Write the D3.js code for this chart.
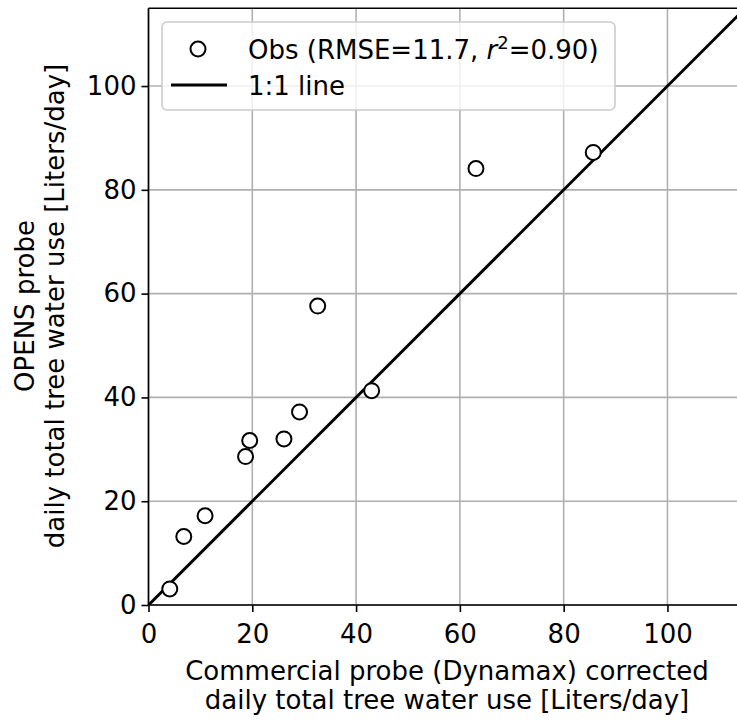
<!DOCTYPE html>
<html lang="en">
<head>
    <meta charset="UTF-8">
    <title>OPENS vs Dynamax</title>
    <script src="https://cdn.jsdelivr.net/npm/d3@7"></script>
    <style>
        body { margin: 0; background: #fff; }
        text { font-family: "DejaVu Sans", sans-serif; }
    </style>
</head>
<body>
<script type="application/javascript">
    // observations (commercial probe x, OPENS probe y), Liters/day
    const dynamax = [4.1, 6.8, 10.9, 18.7, 19.5, 26.1, 29.1, 32.6, 43.0, 63.1, 85.7];
    const opens = [3.1, 13.2, 17.2, 28.6, 31.7, 32.0, 37.2, 57.6, 41.3, 84.1, 87.2];
    const tickValues = [0, 20, 40, 60, 80, 100];
    const axisMax = 115;
    const legendLabels = ['Obs (RMSE=11.7, ', '1:1 line'];

    const w = 737, h = 721, fs = '26px';
    const plotLeft = 148.5, plotBottom = 605, plotTop = 8.2;
    const unit = (plotBottom - plotTop) / axisMax;

    let svg = d3.select('body')
        .append('svg')
        .attr('width', w)
        .attr('height', h);

    let xScale = d3.scaleLinear()
        .domain([0, axisMax])
        .range([plotLeft, plotLeft + axisMax * unit]);

    let yScale = d3.scaleLinear()
        .domain([0, axisMax])
        .range([plotBottom, plotTop]);

    svg.append('clipPath')
        .attr('id', 'plot-clip')
        .append('rect')
        .attr('x', plotLeft)
        .attr('y', plotTop)
        .attr('width', axisMax * unit)
        .attr('height', plotBottom - plotTop);

    // grid
    let grid = svg.append('g');
    grid.selectAll('line.gx')
        .data(tickValues)
        .enter()
        .append('line')
        .attr('x1', d => xScale(d))
        .attr('x2', d => xScale(d))
        .attr('y1', plotTop)
        .attr('y2', plotBottom)
        .attr('stroke', '#b0b0b0')
        .attr('stroke-width', 1.6);
    grid.selectAll('line.gy')
        .data(tickValues)
        .enter()
        .append('line')
        .attr('x1', plotLeft)
        .attr('x2', w + 20)
        .attr('y1', d => yScale(d))
        .attr('y2', d => yScale(d))
        .attr('stroke', '#b0b0b0')
        .attr('stroke-width', 1.6);

    // 1:1 line
    svg.append('line')
        .attr('clip-path', 'url(#plot-clip)')
        .attr('x1', xScale(0))
        .attr('y1', yScale(0))
        .attr('x2', xScale(axisMax))
        .attr('y2', yScale(axisMax))
        .attr('stroke', 'black')
        .attr('stroke-width', 3);

    // observations
    svg.selectAll('circle.obs')
        .data(dynamax)
        .enter()
        .append('circle')
        .attr('class', 'obs')
        .attr('cx', d => xScale(d))
        .attr('cy', (d, i) => yScale(opens[i]))
        .attr('r', 7.5)
        .attr('fill', 'white')
        .attr('stroke', 'black')
        .attr('stroke-width', 2);

    // axes
    let xAxis = d3.axisBottom(xScale)
        .tickValues(tickValues)
        .tickSize(7)
        .tickPadding(13)
        .tickSizeOuter(0);
    let gx = svg.append('g')
        .attr('transform', 'translate(0,' + plotBottom + ')')
        .call(xAxis);

    let yAxis = d3.axisLeft(yScale)
        .tickValues(tickValues)
        .tickSize(7)
        .tickPadding(5)
        .tickSizeOuter(0);
    let gy = svg.append('g')
        .attr('transform', 'translate(' + plotLeft + ',0)')
        .call(yAxis);

    [gx, gy].forEach(g => {
        g.select('.domain').remove();
        g.selectAll('.tick line').attr('stroke', 'black').attr('stroke-width', 1.6);
        g.selectAll('.tick text')
            .attr('font-size', fs)
            .attr('font-family', '"DejaVu Sans", sans-serif')
            .attr('fill', 'black');
    });

    // spines
    svg.append('line')
        .attr('x1', plotLeft).attr('x2', w + 20)
        .attr('y1', plotBottom).attr('y2', plotBottom)
        .attr('stroke', 'black').attr('stroke-width', 1.6);
    svg.append('line')
        .attr('x1', plotLeft).attr('x2', w + 20)
        .attr('y1', plotTop).attr('y2', plotTop)
        .attr('stroke', 'black').attr('stroke-width', 1.6);
    svg.append('line')
        .attr('x1', plotLeft).attr('x2', plotLeft)
        .attr('y1', plotTop).attr('y2', plotBottom)
        .attr('stroke', 'black').attr('stroke-width', 1.6);

    // axis labels
    let xl = svg.append('text')
        .attr('text-anchor', 'middle')
        .attr('font-size', fs);
    xl.append('tspan').attr('x', 447).attr('y', 680).text('Commercial probe (Dynamax) corrected');
    xl.append('tspan').attr('x', 447).attr('y', 709).text('daily total tree water use [Liters/day]');

    let yl = svg.append('text')
        .attr('text-anchor', 'middle')
        .attr('font-size', fs)
        .attr('transform', 'translate(0,306) rotate(-90)');
    yl.append('tspan').attr('x', 0).attr('y', 34).text('OPENS probe');
    yl.append('tspan').attr('x', 0).attr('y', 64).text('daily total tree water use [Liters/day]');

    // legend
    let legend = svg.append('g');
    legend.append('rect')
        .attr('x', 162).attr('y', 22)
        .attr('width', 453).attr('height', 88)
        .attr('rx', 5)
        .attr('fill', 'white').attr('fill-opacity', 0.8)
        .attr('stroke', '#cccccc').attr('stroke-width', 1.6);
    legend.append('circle')
        .attr('cx', 198).attr('cy', 49)
        .attr('r', 7.5)
        .attr('fill', 'white').attr('stroke', 'black').attr('stroke-width', 2);
    let t1 = legend.append('text')
        .attr('x', 248).attr('y', 58.5)
        .attr('font-size', fs);
    t1.append('tspan').text(legendLabels[0]);
    t1.append('tspan').attr('font-style', 'italic').text('r');
    t1.append('tspan').attr('font-size', '18px').attr('dy', -10).text('2');
    t1.append('tspan').attr('dy', 10).text('=0.90)');
    legend.append('line')
        .attr('x1', 171).attr('x2', 227)
        .attr('y1', 85).attr('y2', 85)
        .attr('stroke', 'black').attr('stroke-width', 3);
    legend.append('text')
        .attr('x', 248).attr('y', 94.5)
        .attr('font-size', fs)
        .text(legendLabels[1]);
</script>
</body>
</html>
